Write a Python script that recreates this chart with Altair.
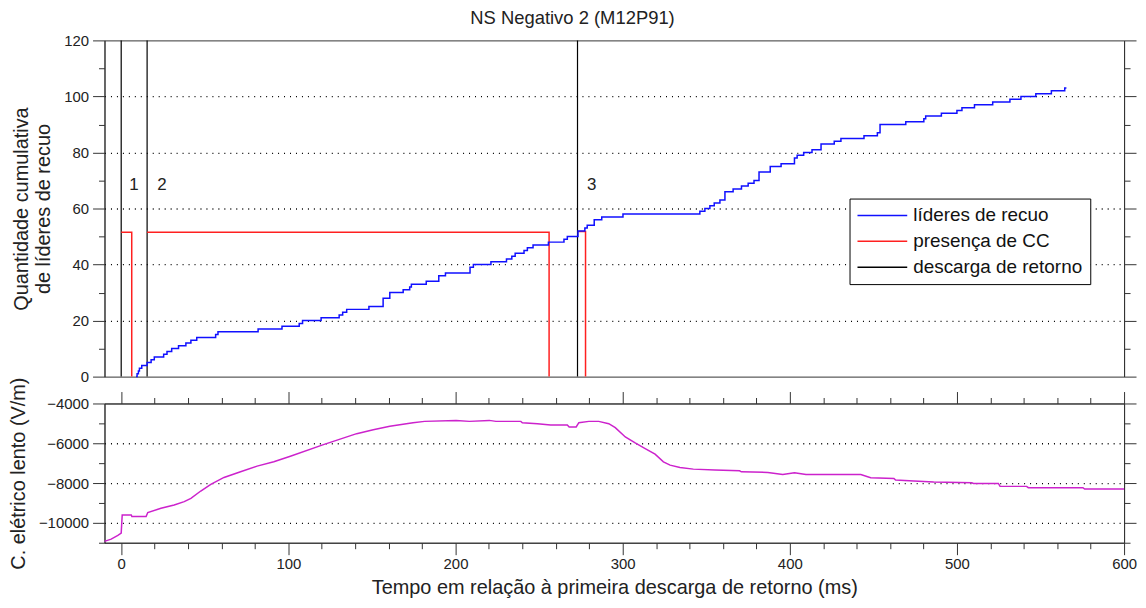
import altair as alt
import pandas as pd

FONT = "Liberation Sans"
AX = "#333333"

# ---------------- data ----------------
# cumulative count of recoil leaders (step-after)
blue_t = [8.9, 9.5, 10.3, 10.9, 12.3, 15.5, 17.9, 19.8, 25.4, 27.4, 30.2, 34.3, 38.7, 41.7,
          45.2, 56.5, 57.9, 81.9, 96.2, 106.5, 108.5, 119.6, 130.4, 132.5, 134.9, 148.2,
          156.7, 160.7, 168.7, 172.6, 173.6, 182.5, 190.0, 194.0, 208.7, 210.7, 221.2,
          230.5, 233.7, 235.7, 241.0, 243.0, 246.4, 255.6, 264.9, 266.9, 273.3, 277.4,
          278.8, 283.0, 287.5, 300.2, 346.2, 349.2, 352.2, 354.8, 358.2, 361.2, 366.1,
          371.1, 375.1, 378.6, 381.6, 388.3, 394.8, 402.8, 404.4, 408.3, 413.3, 418.7,
          426.6, 430.6, 444.4, 452.4, 454.0, 469.4, 480.2, 481.3, 490.7, 500.0, 503.0,
          510.5, 521.4, 531.7, 538.3, 547.2, 556.5, 564.5, 565.5]
blue_n = [0, 1, 2, 3, 4, 5, 6, 7, 8, 9, 10, 11, 12, 13,
          14, 15, 16, 17, 18, 19, 20, 21, 22, 23, 24, 25,
          28, 30, 31, 32, 33, 34, 36, 37, 39, 40, 41,
          42, 43, 44, 45, 46, 47, 48, 49, 50, 52, 53,
          54, 56, 57, 58, 59, 60, 61, 62, 63, 66, 67,
          68, 69, 70, 73, 75, 76, 78, 79, 80, 81, 83,
          84, 85, 86, 87, 90, 91, 92, 93, 94, 95, 96,
          97, 98, 99, 100, 101, 102, 103, 103]

# continuing current presence (segments)
red_seg = [1, 1, 1, 2, 2, 2, 3, 3, 3]
red_t = [0, 6.3, 6.3, 15.5, 256.0, 256.0, 273.4, 277.8, 277.8]
red_n = [51.5, 51.5, 0, 51.5, 51.5, 0, 51.8, 51.8, 0]

# return strokes
rs_t = [0, 15.5, 273.0]
rs_label = ["1", "2", "3"]
rs_label_t = [7.7, 24.4, 281.5]
rs_label_n = [68.5, 68.5, 68.5]

# slow electric field (V/m)
e_t = [-10, -6, -2, 0, 0.6, 6, 6.4, 14.9, 15.9, 23.8, 31.7, 37.7, 41.7, 47.6, 53.6, 61.5,
       71.4, 81.3, 91.3, 101.2, 121, 140.9, 150.8, 160.7, 174.6, 181.5, 200.4, 208.3,
       220.2, 224.2, 239.1, 240, 249, 256.9, 266.9, 268, 272.2, 273.8, 279.8, 285.7,
       291.7, 295.6, 301.6, 307.5, 313.5, 319.4, 324.4, 328.4, 334.3, 342.3, 355.2, 370,
       371, 386.9, 395.8, 402.8, 409.7, 442.5, 448.4, 462.3, 463.3, 474.2, 486.1, 508.9,
       509.9, 524.8, 525.8, 541.7, 542.7, 575.4, 576.4, 600]
e_v = [-10933, -10817, -10633, -10517, -9600, -9600, -9683, -9683, -9483, -9267, -9100,
       -8933, -8767, -8400, -8067, -7717, -7433, -7150, -6933, -6650, -6067, -5517, -5317,
       -5150, -4967, -4900, -4850, -4900, -4850, -4900, -4900, -4967, -5017, -5083, -5083,
       -5183, -5183, -4967, -4900, -4900, -5017, -5217, -5683, -5983, -6267, -6550, -6933,
       -7100, -7217, -7300, -7350, -7383, -7433, -7467, -7567, -7483, -7567, -7567, -7733,
       -7767, -7850, -7900, -7950, -7983, -8017, -8017, -8167, -8167, -8233, -8233, -8300,
       -8300]

series = ["líderes de recuo", "presença de CC", "descarga de retorno"]
series_colors = ["#1010ff", "#ff2020", "#000000"]

df_blue = pd.DataFrame({"t": blue_t, "n": blue_n, "serie": series[0]})
df_red = pd.DataFrame({"t": red_t, "n": red_n, "seg": red_seg,
                       "i": list(range(len(red_t))), "serie": series[1]})
df_rs = pd.DataFrame({"t": rs_t, "serie": series[2]})
df_lab = pd.DataFrame({"t": rs_label_t, "n": rs_label_n, "txt": rs_label})
df_e = pd.DataFrame({"t": e_t, "v": e_v})

# ---------------- scales / axes ----------------
xscale = alt.Scale(domain=[-10, 600], nice=False, zero=False)
yscale_top = alt.Scale(domain=[0, 120], nice=False, zero=False)
yscale_bot = alt.Scale(domain=[-11000, -4000], nice=False, zero=False)

def tsize(test):
    return {"condition": {"test": test, "value": 12}, "value": 6}

def gop(test):
    return {"condition": {"test": test, "value": 1}, "value": 0}

common = dict(tickColor=AX, domainColor=AX, labelFont=FONT, labelFontSize=15,
              labelColor="#222", titleFont=FONT, titleFontSize=20, titleFontWeight="normal",
              titleColor="#222")

y_top_left = alt.Axis(values=list(range(0, 121, 10)), tickSize=tsize("datum.value % 20 === 0"),
                      labelExpr="datum.value % 20 === 0 ? datum.label : ''",
                      grid=True, gridDash=[1, 5], gridColor="#000", gridWidth=1.3,
                      gridOpacity=gop("datum.value % 20 === 0 && datum.value > 0 && datum.value < 120"),
                      title=["Quantidade cumulativa", "de líderes de recuo"], titlePadding=10,
                      titleLineHeight=22, labelPadding=4, **common)
y_top_right = alt.Axis(orient="right", values=list(range(0, 121, 10)),
                       tickSize=tsize("datum.value % 20 === 0"), labels=False, grid=False,
                       title=None, domainColor=AX, tickColor=AX)

y_bot_left = alt.Axis(values=list(range(-11000, -3999, 1000)),
                      tickSize=tsize("datum.value % 2000 === 0"),
                      labelExpr="datum.value % 2000 === 0 ? datum.label : ''",
                      format="d",
                      grid=True, gridDash=[1, 5], gridColor="#000", gridWidth=1.3,
                      gridOpacity=gop("datum.value % 2000 === 0 && datum.value > -11000 && datum.value < -4000"),
                      title="C. elétrico lento (V/m)", titlePadding=10, labelPadding=4, **common)
y_bot_right = alt.Axis(orient="right", values=list(range(-11000, -3999, 1000)),
                       tickSize=tsize("datum.value % 2000 === 0"), labels=False, grid=False,
                       title=None, domainColor=AX, tickColor=AX)

x_bot = alt.Axis(values=list(range(0, 601, 20)), tickSize=tsize("datum.value % 100 === 0"),
                 labelExpr="datum.value % 100 === 0 ? datum.label : ''", grid=False,
                 labelFlush=False,
                 title="Tempo em relação à primeira descarga de retorno (ms)",
                 titlePadding=6, labelPadding=2, **common)
x_top = alt.Axis(orient="top", values=list(range(0, 601, 20)),
                 tickSize=tsize("datum.value % 100 === 0"), labels=False, grid=False,
                 title=None, domainColor=AX, tickColor=AX)

color_enc = alt.Color(
    "serie:N",
    scale=alt.Scale(domain=series, range=series_colors),
    legend=alt.Legend(title=None, orient="none", legendX=749, legendY=159,
                      symbolType="stroke", symbolSize=2500, symbolStrokeWidth=1.5,
                      clipHeight=20, rowPadding=6, padding=7, labelOffset=5,
                      labelFont=FONT, labelFontSize=19, labelColor="#111", labelLimit=400,
                      strokeColor="#000", fillColor="white"),
)

W, H_TOP, H_BOT = 1025, 338, 140

# ---------------- top panel ----------------
blue = alt.Chart(df_blue).mark_line(interpolate="step-after", strokeWidth=1.5).encode(
    x=alt.X("t:Q", scale=xscale, axis=None),
    y=alt.Y("n:Q", scale=yscale_top, axis=y_top_left),
    color=color_enc,
)
red = alt.Chart(df_red).mark_line(strokeWidth=1.5).encode(
    x=alt.X("t:Q", scale=xscale, axis=None),
    y=alt.Y("n:Q", scale=yscale_top, axis=None),
    detail="seg:N",
    order="i:Q",
    color=color_enc,
)
rules = alt.Chart(df_rs).mark_rule(strokeWidth=1.2).encode(
    x=alt.X("t:Q", scale=xscale, axis=None),
    color=color_enc,
)
labels = alt.Chart(df_lab).mark_text(font=FONT, fontSize=17, color="#222").encode(
    x=alt.X("t:Q", scale=xscale, axis=None),
    y=alt.Y("n:Q", scale=yscale_top, axis=None),
    text="txt:N",
)
right_top = alt.Chart(df_blue).mark_line(opacity=0).encode(
    x=alt.X("t:Q", scale=xscale, axis=None),
    y=alt.Y("n:Q", scale=yscale_top, axis=y_top_right),
)
top = alt.layer(rules, red, blue, labels, right_top).resolve_axis(y="independent").properties(
    width=W, height=H_TOP)

# ---------------- bottom panel ----------------
field = alt.Chart(df_e).mark_line(color="#cc22cc", strokeWidth=1.5).encode(
    x=alt.X("t:Q", scale=xscale, axis=x_bot),
    y=alt.Y("v:Q", scale=yscale_bot, axis=y_bot_left),
)
field_r = alt.Chart(df_e).mark_line(opacity=0).encode(
    x=alt.X("t:Q", scale=xscale, axis=x_top),
    y=alt.Y("v:Q", scale=yscale_bot, axis=y_bot_right),
)
bottom = alt.layer(field, field_r).resolve_axis(x="independent", y="independent").properties(
    width=W, height=H_BOT)

chart = alt.vconcat(top, bottom, spacing=27, bounds="flush").resolve_scale(
    color="independent"
).properties(
    title=alt.TitleParams("NS Negativo 2 (M12P91)", font=FONT, fontSize=18.5,
                          fontWeight="normal", color="#222", anchor="middle", offset=5),
    padding={"left": 0, "right": 0, "top": 0, "bottom": 0},
).configure_view(stroke=AX, strokeWidth=1).configure_axis(domainWidth=1, tickWidth=1)

chart.save("out.html", embed_options={"renderer": "svg", "actions": False})
